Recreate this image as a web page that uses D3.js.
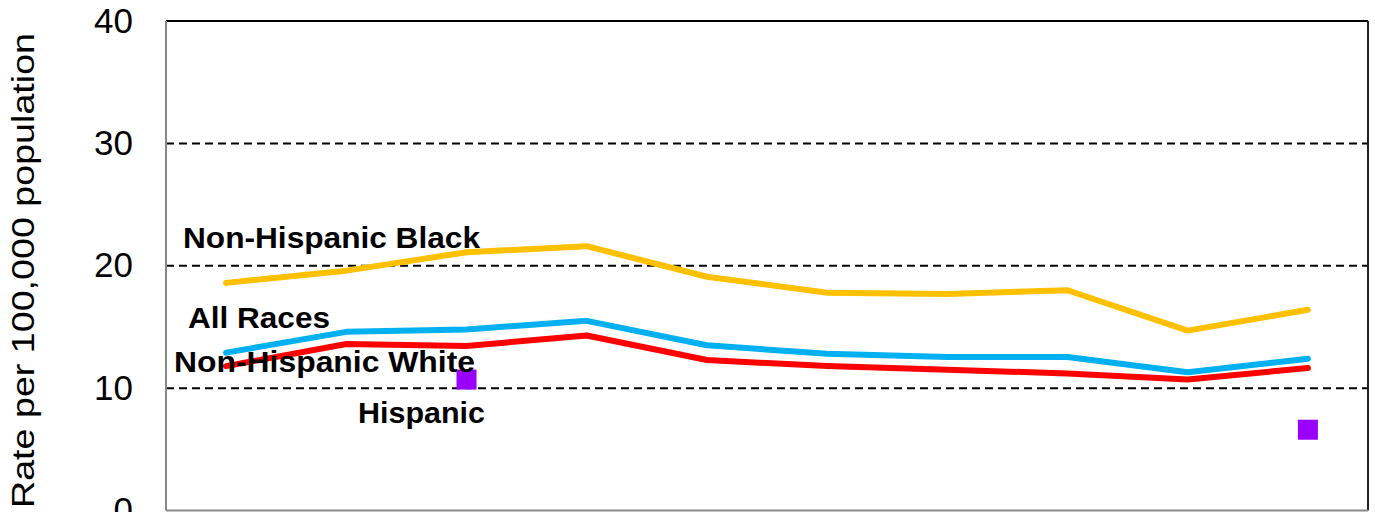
<!DOCTYPE html>
<html><head><meta charset="utf-8">
<script src="https://cdn.jsdelivr.net/npm/d3@7"></script>
<style>html,body{margin:0;padding:0;background:#fff;overflow:hidden}</style>
</head><body>
<script>
const years = ["Y1","Y2","Y3","Y4","Y5","Y6","Y7","Y8","Y9","Y10"];
const nhBlack = [18.6, 19.6, 21.1, 21.6, 19.1, 17.8, 17.7, 18.0, 14.7, 16.4];
const allRaces = [12.9, 14.6, 14.8, 15.5, 13.5, 12.8, 12.55, 12.55, 11.3, 12.4];
const nhWhite = [11.8, 13.6, 13.45, 14.3, 12.3, 11.8, 11.5, 11.2, 10.7, 11.65];
const hispanic = [null, null, 10.7, null, null, null, null, null, null, 6.6];
const yTicks = [0, 10, 20, 30, 40];
const seriesNames = ["Non-Hispanic Black", "All Races", "Non-Hispanic White", "Hispanic"];

const W = 1375, H = 512;
const m = {left: 166, right: 7, top: 21, bottom: 1.5};
const FONT = "Liberation Sans, Arial, sans-serif";
const svg = d3.select("body").append("svg").attr("width", W).attr("height", H);
const x = d3.scalePoint().domain(years).range([m.left, W - m.right]).padding(0.5);
const y = d3.scaleLinear().domain([0, 40]).range([H - m.bottom, m.top]);

// grid
svg.append("g").selectAll("line").data([10, 20, 30]).join("line")
  .attr("x1", m.left).attr("x2", W - m.right)
  .attr("y1", d => y(d)).attr("y2", d => y(d))
  .attr("stroke", "#000").attr("stroke-width", 2).attr("stroke-dasharray", "8,5");

// frame
svg.append("line").attr("x1", m.left).attr("x2", W - m.right).attr("y1", y(40)).attr("y2", y(40)).attr("stroke", "#000").attr("stroke-width", 2);
svg.append("line").attr("x1", m.left).attr("x2", m.left).attr("y1", y(40)).attr("y2", y(0)).attr("stroke", "#888").attr("stroke-width", 2);
svg.append("line").attr("x1", W - m.right).attr("x2", W - m.right).attr("y1", y(40)).attr("y2", y(0)).attr("stroke", "#222").attr("stroke-width", 2);
svg.append("line").attr("x1", m.left).attr("x2", W - m.right).attr("y1", y(0)).attr("y2", y(0)).attr("stroke", "#888").attr("stroke-width", 2);

// y axis
const ya = svg.append("g").attr("transform", `translate(${m.left},0)`)
  .call(d3.axisLeft(y).tickValues(yTicks).tickSize(0).tickPadding(33).tickFormat(d3.format("d")));
ya.select(".domain").remove();
ya.selectAll("text").attr("font-family", FONT).attr("font-size", 35).attr("fill", "#000");

svg.append("text").attr("transform", `translate(34,508) rotate(-90)`)
  .attr("text-anchor", "start").attr("font-family", FONT)
  .attr("font-size", 32).attr("textLength", 475).attr("lengthAdjust", "spacingAndGlyphs")
  .text("Rate per 100,000 population");

const line = d3.line().x((d, i) => x(years[i])).y(d => y(d));
const series = [[nhBlack, "#FFC000"], [allRaces, "#00B0F0"], [nhWhite, "#FF0000"]];
series.forEach(([vals, col]) => {
  svg.append("path").datum(vals).attr("d", line).attr("fill", "none")
    .attr("stroke", col).attr("stroke-width", 6).attr("stroke-linecap", "round").attr("stroke-linejoin", "round");
});

// hispanic squares
const sq = 20;
svg.append("g").selectAll("rect").data(hispanic.map((v, i) => ({v, i})).filter(d => d.v != null)).join("rect")
  .attr("x", d => x(years[d.i]) - sq/2).attr("y", d => y(d.v) - sq/2)
  .attr("width", sq).attr("height", sq).attr("fill", "#9900FF");

// labels: [name, x, baseline, width]
const labels = [[seriesNames[0], 183, 248, 297], [seriesNames[1], 188, 328, 142], [seriesNames[2], 174, 372, 301], [seriesNames[3], 358, 423, 127]];
svg.append("g").selectAll("text").data(labels).join("text")
  .attr("x", d => d[1]).attr("y", d => d[2])
  .attr("font-family", FONT).attr("font-weight", "bold")
  .attr("font-size", 29).attr("textLength", d => d[3]).attr("lengthAdjust", "spacingAndGlyphs")
  .attr("fill", "#000").text(d => d[0]);
</script>
</body></html>
